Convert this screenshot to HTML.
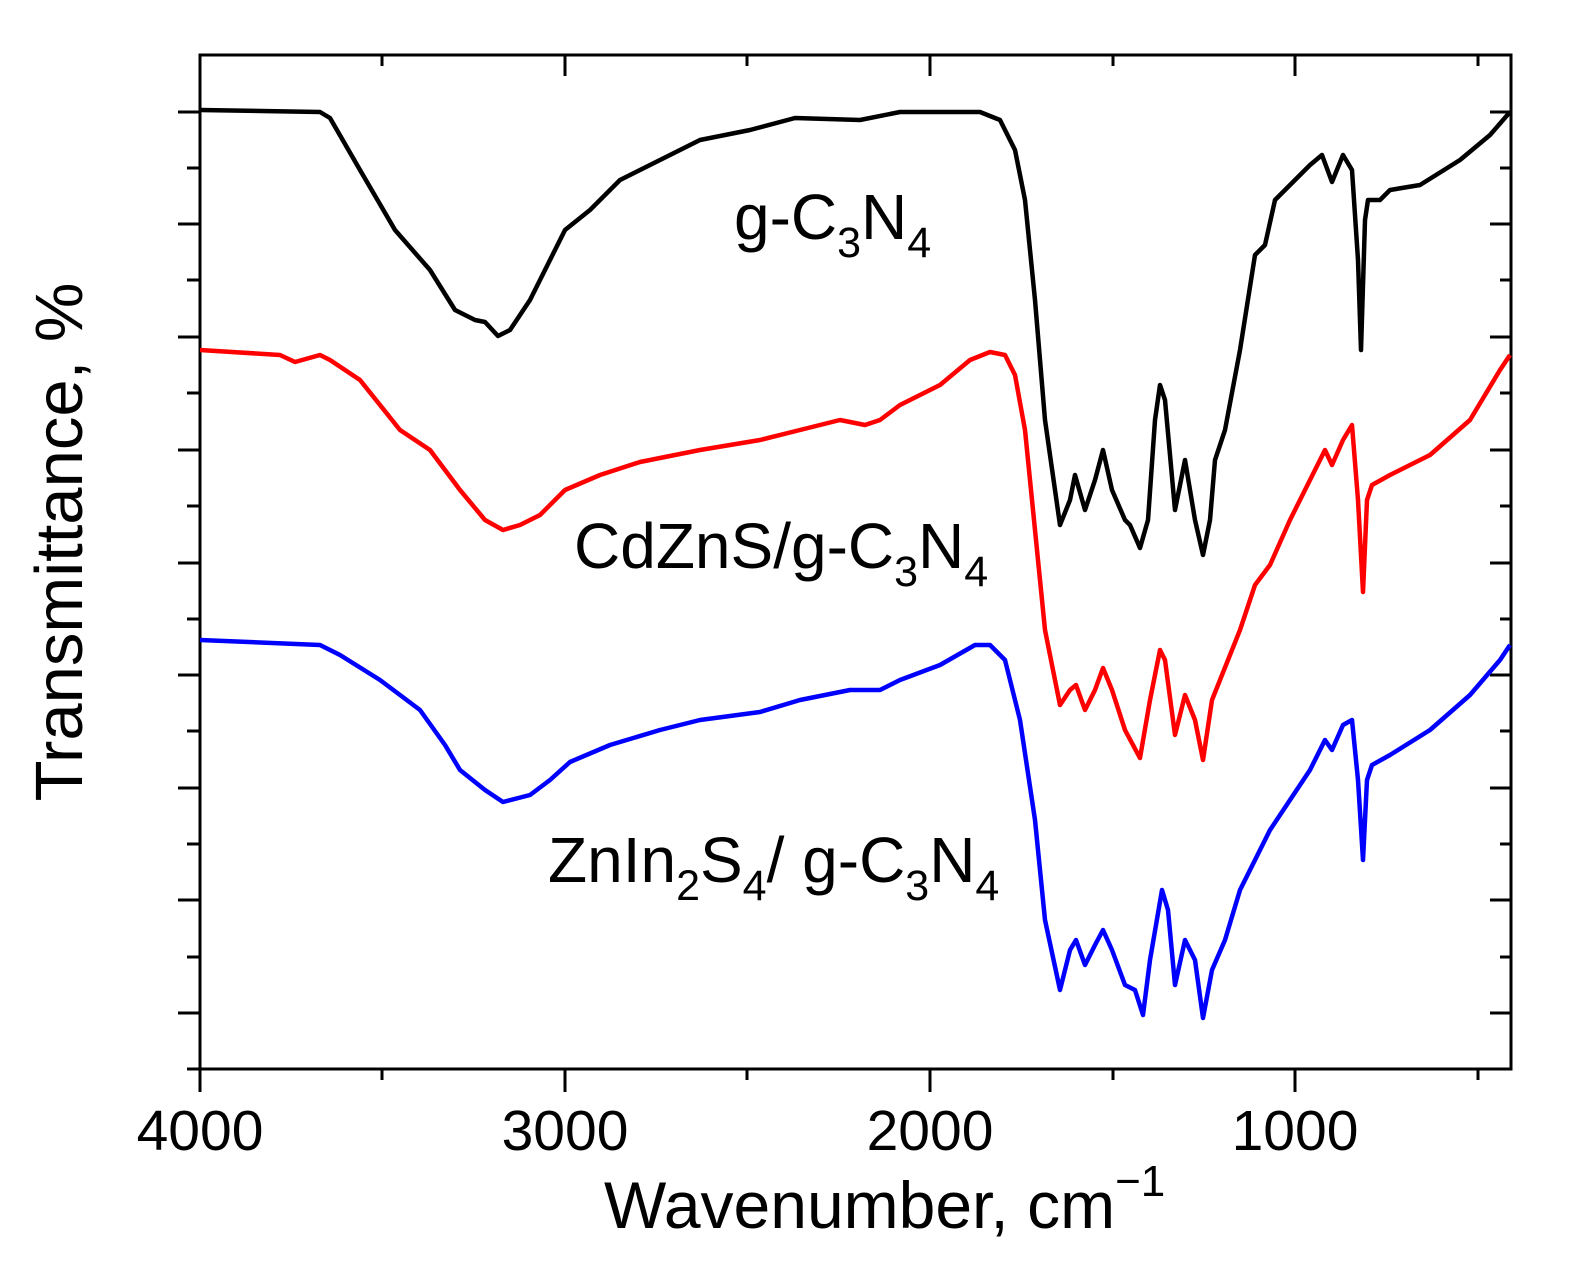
<!DOCTYPE html>
<html><head><meta charset="utf-8"><style>body{margin:0;background:#fff}svg{display:block}</style></head><body>
<svg width="1571" height="1273" viewBox="0 0 1571 1273" xmlns="http://www.w3.org/2000/svg" font-family="Liberation Sans, Arial, sans-serif">
<g stroke="#000" stroke-width="3" fill="none">
<rect x="200" y="55" width="1311" height="1014"/>
<path d="M178 112H200M187 168H200M178 224H200M187 280H200M178 337H200M187 393H200M178 450H200M187 506H200M178 563H200M187 619H200M178 675H200M187 731H200M178 788H200M187 844H200M178 900H200M187 957H200M178 1013H200M187 1069H200"/>
<path d="M200 1069V1092M382 1069V1080M565 1069V1092M747 1069V1080M930 1069V1092M1113 1069V1080M1295 1069V1092M1478 1069V1080"/>
<path d="M382 55V66M565 55V76M747 55V66M930 55V76M1113 55V66M1295 55V76M1478 55V66"/>
<path d="M1511 112H1490M1511 168H1500M1511 224H1490M1511 280H1500M1511 337H1490M1511 393H1500M1511 450H1490M1511 506H1500M1511 563H1490M1511 619H1500M1511 675H1490M1511 731H1500M1511 788H1490M1511 844H1500M1511 900H1490M1511 957H1500M1511 1013H1490"/>
</g>
<g fill="none" stroke-width="4.5" stroke-linejoin="round">
<polyline stroke="#000" points="200,110 320,112 330,118 360,170 395,230 430,270 455,310 475,320 485,322 498,336 510,330 530,300 545,270 565,230 590,210 620,180 660,160 700,140 750,130 795,118 860,120 900,112 980,112 1000,120 1015,150 1025,200 1035,300 1045,420 1060,525 1070,500 1075,475 1085,510 1095,480 1103,450 1112,490 1125,520 1130,525 1140,548 1148,520 1155,420 1160,385 1165,400 1175,510 1185,460 1195,520 1203,555 1210,520 1215,460 1225,430 1240,350 1255,255 1265,245 1275,200 1290,185 1310,165 1322,155 1332,182 1343,155 1352,170 1358,260 1361,350 1365,220 1368,200 1380,200 1390,190 1420,185 1460,160 1490,135 1510,112"/>
<polyline stroke="#ff0000" points="200,350 280,355 295,362 320,355 330,360 360,380 400,430 430,450 460,490 485,520 503,530 520,525 540,515 565,490 600,475 640,462 700,450 760,440 800,430 840,420 865,425 880,420 900,405 940,385 970,360 990,352 1005,355 1015,375 1025,430 1035,530 1045,630 1060,705 1070,690 1076,685 1085,710 1095,690 1103,668 1112,690 1125,730 1140,758 1150,700 1160,650 1165,660 1175,735 1185,695 1195,720 1203,760 1212,700 1220,680 1240,630 1255,585 1270,565 1290,520 1310,480 1325,450 1332,465 1343,440 1352,425 1358,500 1363,592 1367,500 1372,485 1390,475 1430,455 1470,420 1500,370 1510,355"/>
<polyline stroke="#0000ff" points="200,640 320,645 340,655 380,680 420,710 445,745 460,770 485,790 503,802 530,795 550,780 570,762 610,745 660,730 700,720 760,712 800,700 850,690 880,690 900,680 940,665 975,645 990,645 1005,660 1020,720 1035,820 1045,920 1060,990 1070,950 1076,940 1085,965 1095,945 1103,930 1112,950 1125,985 1135,990 1143,1015 1150,960 1162,890 1168,910 1175,985 1185,940 1195,960 1203,1018 1212,970 1225,940 1240,890 1255,860 1270,830 1290,800 1310,770 1325,740 1332,750 1343,725 1352,720 1358,780 1363,860 1367,780 1372,765 1390,755 1430,730 1470,695 1500,660 1510,645"/>
</g>
<g font-size="64" fill="#000">
<text x="734" y="239">g-C<tspan font-size="43" dy="18">3</tspan><tspan dy="-18">N</tspan><tspan font-size="43" dy="18">4</tspan></text>
<text x="574" y="568">CdZnS/g-C<tspan font-size="43" dy="18">3</tspan><tspan dy="-18">N</tspan><tspan font-size="43" dy="18">4</tspan></text>
<text x="548" y="882">ZnIn<tspan font-size="43" dy="18">2</tspan><tspan dy="-18">S</tspan><tspan font-size="43" dy="18">4</tspan><tspan dy="-18">/ g-C</tspan><tspan font-size="43" dy="18">3</tspan><tspan dy="-18">N</tspan><tspan font-size="43" dy="18">4</tspan></text>
</g>
<g font-size="57" text-anchor="middle" fill="#000">
<text x="200" y="1150">4000</text>
<text x="565" y="1150">3000</text>
<text x="930" y="1150">2000</text>
<text x="1295" y="1150">1000</text>
</g>
<text x="604" y="1228" font-size="66">Wavenumber, cm<tspan font-size="44" dy="-32">−1</tspan></text>
<text transform="translate(82,542) rotate(-90)" font-size="67" text-anchor="middle">Transmittance, %</text>
</svg>
</body></html>
